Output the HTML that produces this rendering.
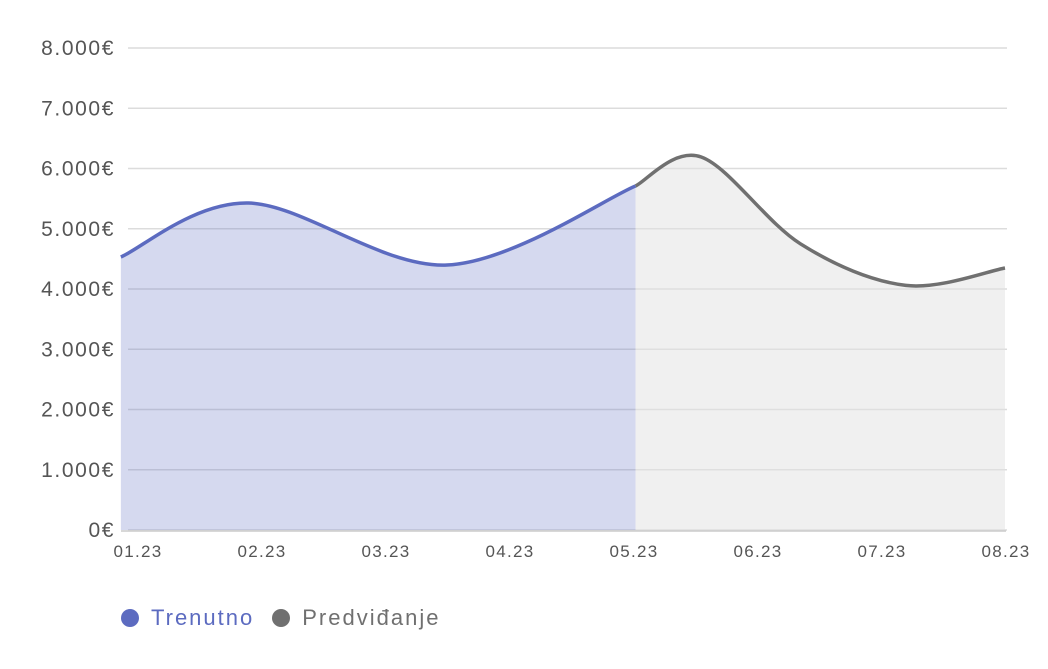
<!DOCTYPE html>
<html><head><meta charset="utf-8"><style>
body{margin:0;background:#fff;font-family:"Liberation Sans",sans-serif}
svg{display:block}
</style></head><body>
<svg id="c" width="1048" height="669" xmlns="http://www.w3.org/2000/svg"></svg>
<script>
const yTicks=[0,1000,2000,3000,4000,5000,6000,7000,8000];
const yTickLabels=["0€","1.000€","2.000€","3.000€","4.000€","5.000€","6.000€","7.000€","8.000€"];
const xLabels=["01.23","02.23","03.23","04.23","05.23","06.23","07.23","08.23"];
const currentMonths=[-0.13,0.9,2.5,4.02];
const currentValues=[4531,5427,4398,5710];
const forecastMonths=[4.02,4.55,5.35,6.2,7.0];
const forecastValues=[5710,6191,4750,4060,4349];
const svg=document.getElementById('c');
const NS='http://www.w3.org/2000/svg';
const X=m=>137+m*124;
const Y=v=>530-v*(482/8000);
function el(t,a,p){const e=document.createElementNS(NS,t);for(const k in a)e.setAttribute(k,a[k]);(p||svg).appendChild(e);return e;}
yTicks.forEach((v,i)=>{
 const g=el('line',{x1:128,x2:1007,y1:Y(v),y2:Y(v),stroke:'#dcdcdc','stroke-width':1.5});
 
 
 const t=el('text',{x:115,y:Y(v)+7,'text-anchor':'end','font-size':21,'letter-spacing':1.6,fill:'#555'});
 t.textContent=yTickLabels[i];
 
 
});
xLabels.forEach((s,i)=>{
 const t=el('text',{x:X(i)+1,y:557,'text-anchor':'middle','font-size':17,'letter-spacing':1.3,fill:'#555'});
 t.textContent=s;
 
 
});
function curve(ms,vs){
 const p=ms.map((m,i)=>[X(m),Y(vs[i])]);
 let d='M'+p[0][0]+','+p[0][1];
 for(let i=0;i<p.length-1;i++){
  const p0=p[i-1]||p[i],p1=p[i],p2=p[i+1],p3=p[i+2]||p2;
  const c1=[p1[0]+(p2[0]-p0[0])/6,p1[1]+(p2[1]-p0[1])/6];
  const c2=[p2[0]-(p3[0]-p1[0])/6,p2[1]-(p3[1]-p1[1])/6];
  d+=`C${c1[0]},${c1[1]} ${c2[0]},${c2[1]} ${p2[0]},${p2[1]}`;
 }
 return {d,first:p[0],last:p[p.length-1]};
}
function series(ms,vs,fill,stroke,name){
 const c=curve(ms,vs);
 const a=el('path',{d:c.d+`L${c.last[0]},${Y(0)}L${c.first[0]},${Y(0)}Z`,fill:fill});
 
 
 const l=el('path',{d:c.d,fill:'none',stroke:stroke,'stroke-width':3.5});
 
 
}
series(forecastMonths,forecastValues,'rgba(225,225,225,0.5)','#707070','forecast');
series(currentMonths,currentValues,'rgba(92,107,192,0.26)','#5c6bc0','current');
const ax=el('line',{x1:121,x2:1006,y1:531,y2:531,stroke:'#ccc','stroke-width':1.5});


</script>
<div style="position:absolute;left:0;top:0;width:1048px;height:669px;pointer-events:none">
 <div style="position:absolute;left:121px;top:605px;font-size:22px;letter-spacing:2px;display:flex;align-items:center;pointer-events:auto">
  <span style="display:flex;align-items:center;color:#5c6bc0;margin-right:18px"><span style="width:18px;height:18px;border-radius:50%;background:#5c6bc0;margin-right:12px"></span>Trenutno</span>
  <span style="display:flex;align-items:center;color:#707070"><span style="width:18px;height:18px;border-radius:50%;background:#707070;margin-right:12px"></span>Predviđanje</span>
 </div>
</div>
</body></html>
